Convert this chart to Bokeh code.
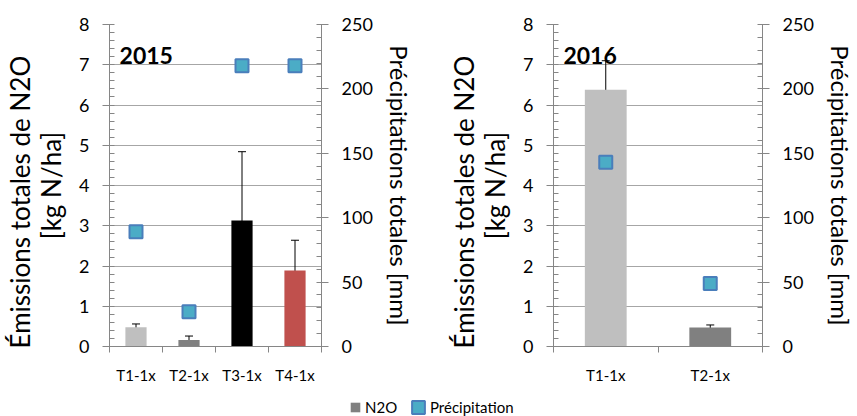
from bokeh.plotting import figure
from bokeh.models import (Range1d, LinearAxis, SingleIntervalTicker, FixedTicker,
                          ColumnDataSource, Whisker, TeeHead, Label, Legend, LegendItem)
from bokeh.layouts import column, row
from bokeh.embed import file_html
from bokeh.resources import INLINE

# N2O emissions [kg N/ha] with error margins, and total precipitation [mm]
cats_2015 = ["T1-1x", "T2-1x", "T3-1x", "T4-1x"]
n2o_2015 = [0.48, 0.16, 3.13, 1.89]
err_2015 = [0.08, 0.10, 1.71, 0.75]
rain_2015 = [89, 27, 218, 218]
colors_2015 = ["#BFBFBF", "#808080", "#000000", "#C0504D"]

cats_2016 = ["T1-1x", "T2-1x"]
n2o_2016 = [6.38, 0.47]
err_2016 = [0.72, 0.065]
rain_2016 = [143, 49]
colors_2016 = ["#BFBFBF", "#808080"]

FONT = "Lato"
AXIS_GREY = "#868686"
GRID_GREY = "#A6A6A6"
MARK_FILL = "#4BACC6"
MARK_LINE = "#4A7EBB"
PAD = "\u00a0" * 5


def style_value_axis(ax, title_size):
    ax.axis_label_text_font = FONT
    ax.axis_label_text_font_size = title_size
    ax.axis_label_text_font_style = "normal"
    ax.axis_label_text_color = "black"
    ax.axis_label_text_line_height = 0.98
    ax.axis_label_standoff = 9
    ax.major_label_text_font = FONT
    ax.major_label_text_font_size = "18px"
    ax.major_label_text_color = "black"
    ax.major_label_standoff = 13
    ax.major_tick_out = 7
    ax.major_tick_in = 4
    ax.minor_tick_out = 0
    ax.minor_tick_in = 5
    ax.axis_line_color = AXIS_GREY
    ax.major_tick_line_color = AXIS_GREY
    ax.minor_tick_line_color = AXIS_GREY


def panel(cats, n2o, err, rain, colors, year, width, border_left, border_right):
    n = len(cats)
    centers = [i + 0.5 for i in range(n)]
    p = figure(width=width, height=386, x_range=Range1d(0, n), y_range=Range1d(0, 8),
               output_backend="svg", toolbar_location=None,
               min_border_left=border_left, min_border_right=border_right,
               min_border_top=24, min_border_bottom=40)
    p.extra_y_ranges = {"rain": Range1d(0, 250)}
    p.outline_line_color = None
    p.background_fill_color = None
    p.border_fill_color = "white"

    src = ColumnDataSource(dict(x=centers, top=n2o, color=colors,
                                upper=[v + e for v, e in zip(n2o, err)],
                                lower=[v - e for v, e in zip(n2o, err)],
                                rain=rain))

    p.vbar(x="x", top="top", width=0.4, fill_color="color", line_color=None, source=src)
    p.add_layout(Whisker(source=src, base="x", upper="upper", lower="lower",
                         line_color="black", line_width=1,
                         upper_head=TeeHead(size=8, line_color="black", line_width=1),
                         lower_head=TeeHead(size=8, line_color="black", line_width=1)))
    p.scatter(x="x", y="rain", marker="square", size=13, fill_color=MARK_FILL,
              line_color=MARK_LINE, line_width=2, y_range_name="rain", source=src)

    # category axis: labels centred, tick marks between categories
    xa = p.xaxis[0]
    xa.ticker = FixedTicker(ticks=centers, minor_ticks=list(range(n + 1)))
    xa.major_label_overrides = {c: lab for c, lab in zip(centers, cats)}
    xa.major_tick_out = 0
    xa.major_tick_in = 0
    xa.minor_tick_out = 6
    xa.minor_tick_in = 0
    xa.minor_tick_line_color = AXIS_GREY
    xa.axis_line_color = AXIS_GREY
    xa.major_label_text_font = FONT
    xa.major_label_text_font_size = "15px"
    xa.major_label_text_color = "black"
    xa.major_label_standoff = 13

    ya = p.yaxis[0]
    ya.ticker = SingleIntervalTicker(interval=1, num_minor_ticks=5)
    ya.axis_label = "Émissions totales de N2O" + PAD + "\n[kg N/ha]"
    style_value_axis(ya, "26px")

    ra = LinearAxis(y_range_name="rain",
                    ticker=SingleIntervalTicker(interval=50, num_minor_ticks=5),
                    axis_label="Précipitations totales [mm]")
    style_value_axis(ra, "24px")
    p.add_layout(ra, "right")

    p.xgrid.visible = False
    p.ygrid.grid_line_color = GRID_GREY
    p.ygrid.grid_line_width = 1

    p.add_layout(Label(x=0.19 * n / 4, y=7.23, text=year, text_font=FONT,
                       text_font_size="23px", text_font_style="bold",
                       text_color="black", text_baseline="alphabetic"))
    return p


p1 = panel(cats_2015, n2o_2015, err_2015, rain_2015, colors_2015, "2015", 430, 107, 109)
p2 = panel(cats_2016, n2o_2016, err_2016, rain_2016, colors_2016, "2016", 427, 123, 89)

# shared legend strip; its glyphs sit outside the visible range, only the swatches show
leg = figure(width=857, height=30, x_range=Range1d(0, 1), y_range=Range1d(0, 1),
             output_backend="svg", toolbar_location=None,
             min_border_left=0, min_border_right=0, min_border_top=0, min_border_bottom=0)
leg.outline_line_color = None
leg.axis.visible = False
leg.grid.visible = False
r_bar = leg.quad(left=[5], right=[6], top=[5], bottom=[4],
                 fill_color="#808080", line_color=None)
r_pt = leg.quad(left=[5], right=[6], top=[5], bottom=[4],
                fill_color=MARK_FILL, line_color=MARK_LINE, line_width=2)


def legend_box(label, renderer, x, glyph):
    return Legend(items=[LegendItem(label=label, renderers=[renderer])],
                  orientation="horizontal", location=(x, 0),
                  label_text_font=FONT, label_text_font_size="15px",
                  label_text_color="black", glyph_width=glyph, glyph_height=glyph,
                  label_height=16, label_standoff=4, padding=0, margin=0,
                  border_line_color=None, background_fill_alpha=0)


leg.add_layout(legend_box("N2O", r_bar, 349, 12))
leg.add_layout(legend_box("Précipitation", r_pt, 410, 16))

layout = column(row(p1, p2), leg)
open("out.html", "w").write(file_html(layout, INLINE))
